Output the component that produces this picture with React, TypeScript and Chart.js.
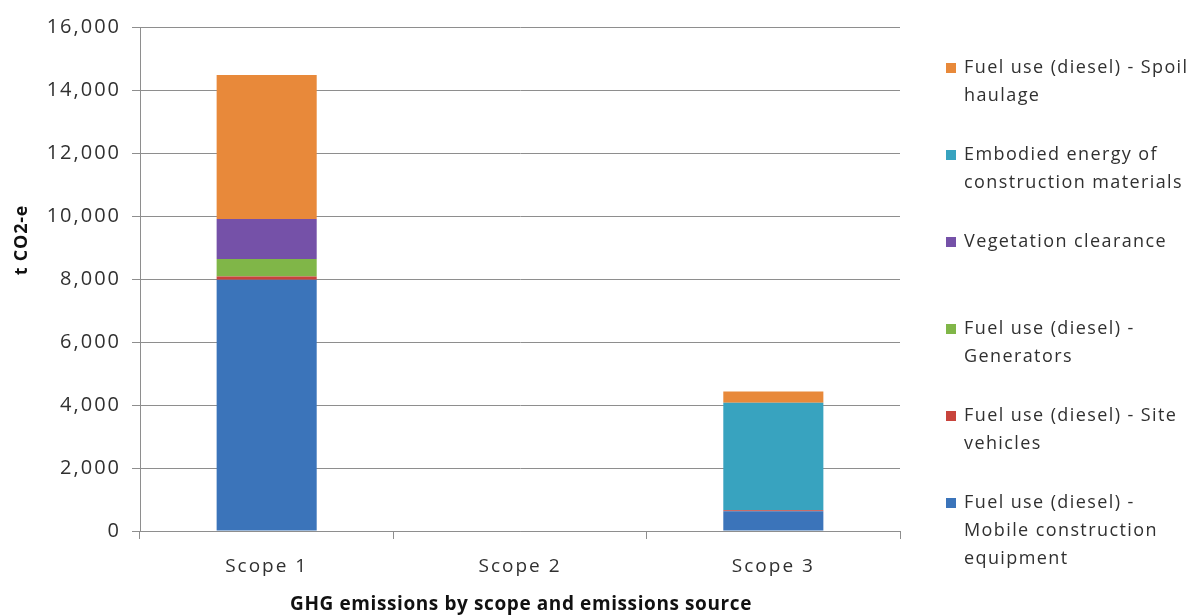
import React, { useEffect, useRef } from "react";
import { Chart, registerables } from "chart.js";

Chart.register(...registerables);

// Emission scopes along the x axis
const categories = ["Scope 1", "Scope 2", "Scope 3"];

// Emissions by source, t CO2-e per scope
const mobileEquipment = [7980, 0, 630];
const siteVehicles = [100, 0, 25];
const generators = [555, 0, 0];
const vegetationClearance = [1270, 0, 0];
const embodiedEnergy = [0, 0, 3420];
const spoilHaulage = [4570, 0, 350];

// Value axis ticks
const yTicks = [0, 2000, 4000, 6000, 8000, 10000, 12000, 14000, 16000];

// Series names, stacked bottom to top
const seriesNames = [
  "Fuel use (diesel) - Mobile construction equipment",
  "Fuel use (diesel) - Site vehicles",
  "Fuel use (diesel) - Generators",
  "Vegetation clearance",
  "Embodied energy of construction materials",
  "Fuel use (diesel) - Spoil haulage",
];

// Wrapped legend lines for each series (same order as seriesNames)
const legendLines = [
  ["Fuel use (diesel) -", "Mobile construction", "equipment"],
  ["Fuel use (diesel) - Site", "vehicles"],
  ["Fuel use (diesel) -", "Generators"],
  ["Vegetation clearance"],
  ["Embodied energy of", "construction materials"],
  ["Fuel use (diesel) - Spoil", "haulage"],
];

const seriesColors = ["#3B74BA", "#C8443C", "#80B648", "#7551A8", "#38A3BF", "#E8893A"];

const FONT = '"Open Sans", "DejaVu Sans", sans-serif';
const TEXT = "#303030";
const GRID = "#8E8E8E";

// Wider tracking for the axis tick labels
const tracking = {
  id: "tracking",
  beforeDraw(chart: any) {
    (chart.ctx as any).letterSpacing = "2px";
  },
};

const sideDecor = {
  id: "sideDecor",
  afterDraw(chart: any) {
    const ctx = chart.ctx as CanvasRenderingContext2D;

    // Legend, listed top of stack first
    ctx.save();
    ctx.font = `18px ${FONT}`;
    (ctx as any).letterSpacing = "1.4px";
    ctx.textBaseline = "middle";
    ctx.textAlign = "left";
    const order = chart.data.datasets.map((_: any, i: number) => i).reverse();
    order.forEach((dsIndex: number, slot: number) => {
      const ds = chart.data.datasets[dsIndex];
      const y0 = 68 + slot * 87;
      ctx.fillStyle = ds.backgroundColor;
      ctx.fillRect(946, y0 - 5, 10, 10);
      ctx.fillStyle = TEXT;
      legendLines[dsIndex].forEach((line, j) => ctx.fillText(line, 964, y0 + j * 28));
    });
    ctx.restore();

    // Axis titles
    ctx.save();
    ctx.fillStyle = "#111";
    ctx.textAlign = "center";
    ctx.textBaseline = "middle";
    (ctx as any).letterSpacing = "0.6px";
    ctx.font = `bold 19px ${FONT}`;
    ctx.fillText("GHG emissions by scope and emissions source", 521, 605);
    ctx.translate(22, 240);
    ctx.rotate(-Math.PI / 2);
    (ctx as any).letterSpacing = "0.8px";
    ctx.font = `bold 18px ${FONT}`;
    ctx.fillText("t CO2-e", 0, 0);
    ctx.restore();
  },
};

export default function App() {
  const canvasRef = useRef<HTMLCanvasElement | null>(null);

  useEffect(() => {
    const seriesData = [mobileEquipment, siteVehicles, generators, vegetationClearance, embodiedEnergy, spoilHaulage];
    const datasets = seriesNames.map((name, i) => ({
      label: name,
      data: seriesData[i],
      backgroundColor: seriesColors[i],
      borderWidth: 0,
      categoryPercentage: 1,
      barPercentage: 0.395,
    }));

    const chart = new Chart(canvasRef.current as HTMLCanvasElement, {
      type: "bar",
      data: { labels: categories, datasets },
      options: {
        animation: false,
        responsive: true,
        maintainAspectRatio: false,
        layout: { padding: { top: 27, right: 289, bottom: 0, left: 0 } },
        plugins: {
          legend: { display: false },
          tooltip: { enabled: false },
          title: { display: false },
        },
        scales: {
          x: {
            stacked: true,
            grid: {
              offset: true,
              drawOnChartArea: false,
              drawTicks: true,
              tickLength: 8,
              color: GRID,
            },
            border: { display: true, color: GRID, width: 1 },
            ticks: {
              color: TEXT,
              font: { family: FONT, size: 19 },
              padding: 16,
            },
            afterFit(scale: any) {
              scale.height = 84;
            },
          },
          y: {
            stacked: true,
            min: 0,
            max: 16000,
            afterBuildTicks(scale: any) {
              scale.ticks = yTicks.map((v) => ({ value: v }));
            },
            grid: {
              color: GRID,
              drawTicks: true,
              tickLength: 8,
            },
            border: { display: true, color: GRID, width: 1 },
            ticks: {
              color: TEXT,
              font: { family: FONT, size: 20 },
              padding: 11,
              callback: (v: any) => Number(v).toLocaleString("en-US"),
            },
            afterFit(scale: any) {
              scale.width = 140;
            },
          },
        },
      },
      plugins: [tracking, sideDecor],
    });

    return () => chart.destroy();
  }, []);

  return (
    <div style={{ position: "absolute", left: 0, top: 0, width: 1189, height: 615, background: "#fff" }}>
      <canvas ref={canvasRef} />
    </div>
  );
}
